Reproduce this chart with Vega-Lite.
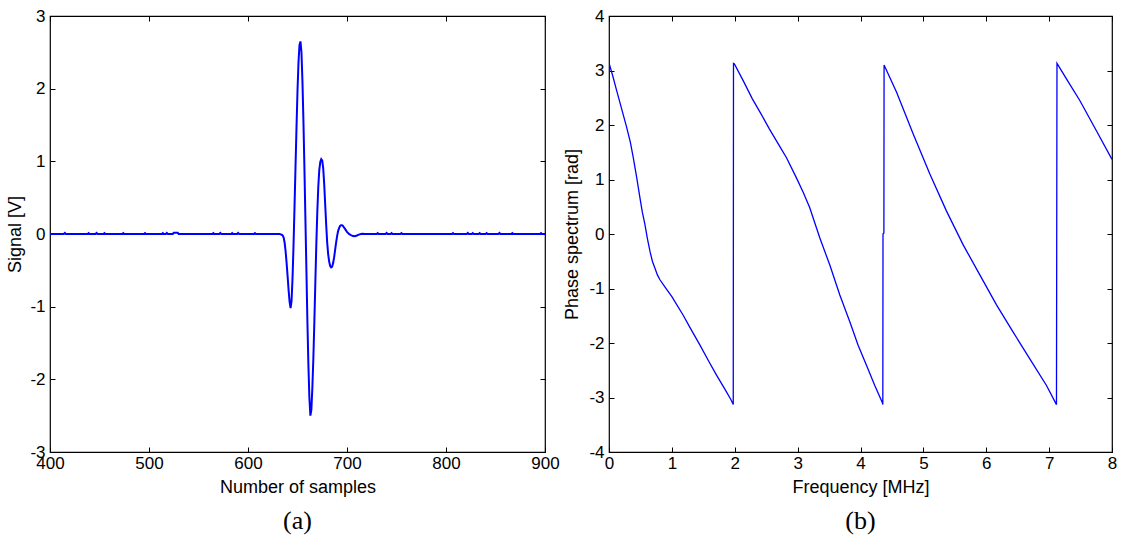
{
  "$schema": "https://vega.github.io/schema/vega-lite/v6.json",
  "padding": {"left": 6, "top": 6, "right": 5, "bottom": 5},
  "background": "white",
  "spacing": 64,
  "bounds": "flush",
  "config": {
    "view": {"stroke": "#000", "strokeWidth": 1.2},
    "font": "Liberation Sans",
    "axis": {
      "grid": false,
      "domain": false,
      "tickSize": -5,
      "tickColor": "#000",
      "tickWidth": 1,
      "labelFont": "Liberation Sans",
      "labelFontSize": 17,
      "labelColor": "#000",
      "labelFlush": false,
      "labelOverlap": false,
      "labelExpr": "'' + datum.value",
      "titleFont": "Liberation Sans",
      "titleFontSize": 18,
      "titleFontWeight": "normal",
      "titleColor": "#000"
    }
  },
  "hconcat": [
    {
      "width": 495,
      "height": 436,
      "title": {"text": "(a)", "orient": "bottom", "font": "Liberation Serif", "fontSize": 26, "fontWeight": "normal", "color": "#000", "offset": 12},
      "data": {"values": [
        {"s":400,"v":0},{"s":414,"v":0},{"s":415,"v":0.014},{"s":416,"v":0},{"s":438,"v":0},{"s":439,"v":0.012},{"s":440,"v":0},
        {"s":446,"v":0},{"s":447,"v":0.014},{"s":448,"v":0},{"s":454,"v":0},{"s":455,"v":0.012},{"s":456,"v":0},
        {"s":473,"v":0},{"s":474,"v":0.012},{"s":475,"v":0},{"s":495,"v":0},{"s":496,"v":0.012},{"s":497,"v":0},
        {"s":513,"v":0},{"s":514,"v":0.012},{"s":515,"v":0},{"s":517,"v":0},{"s":518,"v":0.014},{"s":519,"v":0},
        {"s":524,"v":0},{"s":525,"v":0.016},{"s":529,"v":0.016},{"s":530,"v":0},
        {"s":564,"v":0},{"s":565,"v":0.012},{"s":566,"v":0},{"s":571,"v":0},{"s":572,"v":0.014},{"s":573,"v":0},
        {"s":583,"v":0},{"s":584,"v":0.012},{"s":585,"v":0},{"s":589,"v":0},{"s":590,"v":0.014},{"s":591,"v":0},
        {"s":606,"v":0},{"s":607,"v":0.012},{"s":608,"v":0},
        {"s":632,"v":0},{"s":633,"v":-0.005},{"s":634,"v":-0.01},{"s":635,"v":-0.02},{"s":636,"v":-0.05},{"s":637,"v":-0.12},
        {"s":638,"v":-0.24},{"s":639,"v":-0.4},{"s":640,"v":-0.58},{"s":641,"v":-0.77},{"s":642,"v":-0.93},{"s":643,"v":-1.02},
        {"s":644,"v":-0.92},{"s":645,"v":-0.6},{"s":646,"v":-0.15},{"s":647,"v":0.38},{"s":648,"v":0.93},{"s":649,"v":1.47},
        {"s":650,"v":1.97},{"s":651,"v":2.36},{"s":652,"v":2.6},{"s":653,"v":2.65},{"s":654,"v":2.5},{"s":655,"v":2.1},
        {"s":656,"v":1.55},{"s":657,"v":0.9},{"s":658,"v":0.2},{"s":659,"v":-0.5},{"s":660,"v":-1.2},{"s":661,"v":-1.8},
        {"s":662,"v":-2.25},{"s":663,"v":-2.5},{"s":664,"v":-2.42},{"s":665,"v":-2.12},{"s":666,"v":-1.72},{"s":667,"v":-1.22},
        {"s":668,"v":-0.68},{"s":669,"v":-0.15},{"s":670,"v":0.3},{"s":671,"v":0.65},{"s":672,"v":0.88},{"s":673,"v":0.99},
        {"s":674,"v":1.03},{"s":675,"v":1.01},{"s":676,"v":0.9},{"s":677,"v":0.68},{"s":678,"v":0.4},{"s":679,"v":0.12},
        {"s":680,"v":-0.12},{"s":681,"v":-0.28},{"s":682,"v":-0.38},{"s":683,"v":-0.44},{"s":684,"v":-0.46},{"s":685,"v":-0.45},
        {"s":686,"v":-0.4},{"s":687,"v":-0.32},{"s":688,"v":-0.22},{"s":689,"v":-0.12},{"s":690,"v":-0.03},{"s":691,"v":0.04},
        {"s":692,"v":0.08},{"s":693,"v":0.11},{"s":694,"v":0.12},{"s":695,"v":0.12},{"s":696,"v":0.11},{"s":697,"v":0.09},
        {"s":698,"v":0.07},{"s":699,"v":0.05},{"s":700,"v":0.03},{"s":702,"v":0.0},{"s":704,"v":-0.015},{"s":706,"v":-0.028},
        {"s":708,"v":-0.03},{"s":710,"v":-0.02},{"s":712,"v":-0.008},{"s":714,"v":0.0},{"s":716,"v":0.004},{"s":718,"v":0},
        {"s":730,"v":0},{"s":731,"v":0.012},{"s":732,"v":0},{"s":739,"v":0},{"s":740,"v":0.014},{"s":741,"v":0},
        {"s":744,"v":0},{"s":745,"v":0.012},{"s":746,"v":0},{"s":754,"v":0},{"s":755,"v":0.012},{"s":756,"v":0},
        {"s":806,"v":0},{"s":807,"v":0.012},{"s":808,"v":0},{"s":821,"v":0},{"s":822,"v":0.014},{"s":823,"v":0},
        {"s":826,"v":0},{"s":827,"v":0.012},{"s":828,"v":0},{"s":833,"v":0},{"s":834,"v":0.012},{"s":835,"v":0},
        {"s":840,"v":0},{"s":841,"v":0.012},{"s":842,"v":0},{"s":853,"v":0},{"s":854,"v":0.014},{"s":855,"v":0},
        {"s":866,"v":0},{"s":867,"v":0.012},{"s":868,"v":0},{"s":895,"v":0},{"s":896,"v":0.012},{"s":897,"v":0},{"s":900,"v":0}
      ]},
      "layer": [
        {
          "mark": {"type": "line", "color": "#0000ff", "strokeWidth": 2, "clip": true},
          "encoding": {
            "x": {"field": "s", "type": "quantitative", "sort": null,
                  "scale": {"domain": [400, 900], "nice": false, "zero": false},
                  "axis": {"orient": "bottom", "values": [400,500,600,700,800,900], "labelPadding": 8, "title": "Number of samples", "titlePadding": 7}},
            "y": {"field": "v", "type": "quantitative",
                  "scale": {"domain": [-3, 3], "nice": false, "zero": false},
                  "axis": {"orient": "left", "values": [-3,-2,-1,0,1,2,3], "labelPadding": 10, "title": "Signal [V]", "titlePadding": 5}}
          }
        },
        {
          "mark": {"type": "point", "opacity": 0},
          "encoding": {
            "x": {"field": "s", "type": "quantitative", "axis": {"orient": "top", "values": [400,500,600,700,800,900], "labels": false, "title": null}},
            "y": {"field": "v", "type": "quantitative", "axis": {"orient": "right", "values": [-3,-2,-1,0,1,2,3], "labels": false, "title": null}}
          }
        }
      ],
      "resolve": {"axis": {"x": "independent", "y": "independent"}}
    },
    {
      "width": 503,
      "height": 436,
      "title": {"text": "(b)", "orient": "bottom", "font": "Liberation Serif", "fontSize": 26, "fontWeight": "normal", "color": "#000", "offset": 12},
      "data": {"values": [
        {"f":0.0,"p":3.14},{"f":0.06,"p":2.9},{"f":0.122,"p":2.63},{"f":0.2,"p":2.3},{"f":0.28,"p":1.96},{"f":0.34,"p":1.68},
        {"f":0.386,"p":1.4},{"f":0.44,"p":1.04},{"f":0.493,"p":0.66},{"f":0.53,"p":0.4},{"f":0.572,"p":0.17},{"f":0.61,"p":-0.08},
        {"f":0.652,"p":-0.32},{"f":0.69,"p":-0.5},{"f":0.731,"p":-0.63},{"f":0.77,"p":-0.75},{"f":0.81,"p":-0.84},{"f":0.9,"p":-0.99},
        {"f":1.0,"p":-1.15},{"f":1.18,"p":-1.49},{"f":1.3,"p":-1.74},{"f":1.447,"p":-2.04},{"f":1.58,"p":-2.32},{"f":1.71,"p":-2.59},
        {"f":1.85,"p":-2.86},{"f":1.94,"p":-3.04},{"f":1.976,"p":-3.13},
        {"f":1.98,"p":3.13},{"f":1.995,"p":3.12},{"f":2.14,"p":2.8},{"f":2.28,"p":2.48},{"f":2.42,"p":2.2},{"f":2.55,"p":1.93},
        {"f":2.72,"p":1.6},{"f":2.823,"p":1.4},{"f":2.981,"p":1.03},{"f":3.09,"p":0.76},{"f":3.193,"p":0.48},{"f":3.352,"p":-0.07},
        {"f":3.512,"p":-0.57},{"f":3.671,"p":-1.12},{"f":3.83,"p":-1.61},{"f":3.962,"p":-2.04},{"f":4.095,"p":-2.41},{"f":4.227,"p":-2.78},
        {"f":4.35,"p":-3.1},{"f":4.355,"p":-3.13},{"f":4.358,"p":0.0},{"f":4.372,"p":0.02},{"f":4.375,"p":3.1},
        {"f":4.574,"p":2.6},{"f":4.84,"p":1.83},{"f":5.103,"p":1.1},{"f":5.368,"p":0.42},{"f":5.633,"p":-0.2},{"f":5.898,"p":-0.75},
        {"f":6.163,"p":-1.3},{"f":6.428,"p":-1.8},{"f":6.693,"p":-2.29},{"f":6.958,"p":-2.78},{"f":7.117,"p":-3.13},
        {"f":7.125,"p":3.13},{"f":7.3,"p":2.8},{"f":7.488,"p":2.45},{"f":7.754,"p":1.89},{"f":8.0,"p":1.37}
      ]},
      "layer": [
        {
          "mark": {"type": "line", "color": "#0000ff", "strokeWidth": 1.3, "clip": true},
          "encoding": {
            "x": {"field": "f", "type": "quantitative", "sort": null,
                  "scale": {"domain": [0, 8], "nice": false, "zero": false},
                  "axis": {"orient": "bottom", "values": [0,1,2,3,4,5,6,7,8], "labelPadding": 8, "title": "Frequency [MHz]", "titlePadding": 7}},
            "y": {"field": "p", "type": "quantitative",
                  "scale": {"domain": [-4, 4], "nice": false, "zero": false},
                  "axis": {"orient": "left", "values": [-4,-3,-2,-1,0,1,2,3,4], "labelPadding": 10, "title": "Phase spectrum [rad]", "titlePadding": 7}}
          }
        },
        {
          "mark": {"type": "point", "opacity": 0},
          "encoding": {
            "x": {"field": "f", "type": "quantitative", "axis": {"orient": "top", "values": [0,1,2,3,4,5,6,7,8], "labels": false, "title": null}},
            "y": {"field": "p", "type": "quantitative", "axis": {"orient": "right", "values": [-4,-3,-2,-1,0,1,2,3,4], "labels": false, "title": null}}
          }
        }
      ],
      "resolve": {"axis": {"x": "independent", "y": "independent"}}
    }
  ]
}
